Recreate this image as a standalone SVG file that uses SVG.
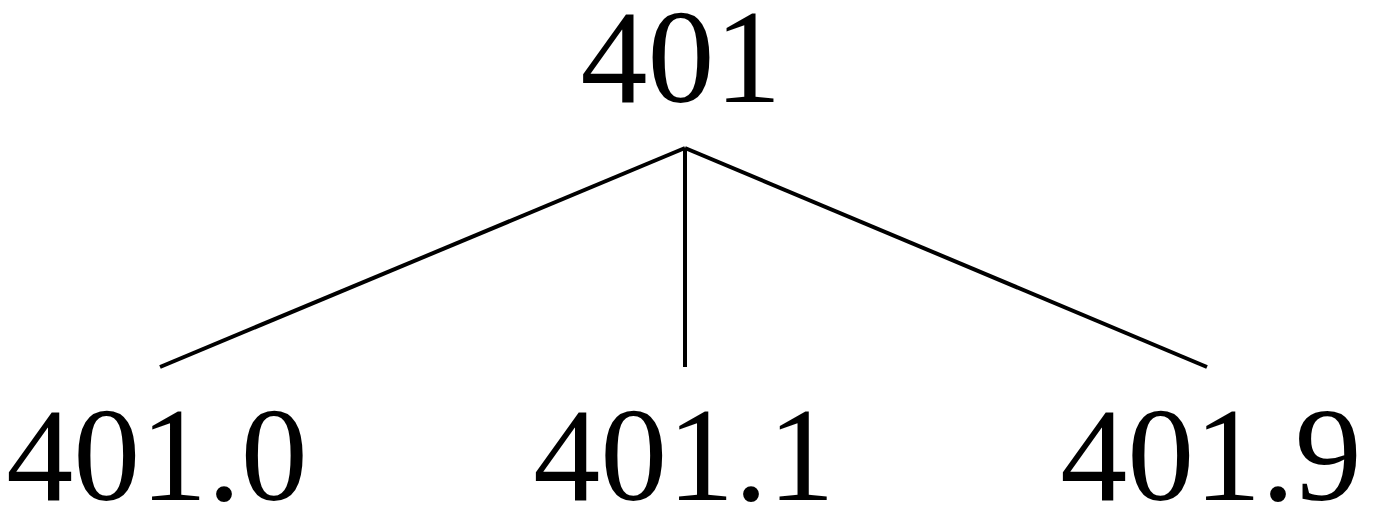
<svg xmlns="http://www.w3.org/2000/svg" width="1377" height="512" viewBox="0 0 1377 512">
<style>
.t{font-family:"Liberation Serif","DejaVu Serif",serif;font-size:134px;fill:#000;text-anchor:middle}
.e{stroke:#000;stroke-width:4;fill:none}
</style>
<rect width="1377" height="512" fill="#fff"/>
<g id="edges">
<line class="e" x1="685" y1="148" x2="160" y2="367"/>
<line class="e" x1="685" y1="148" x2="685" y2="367"/>
<line class="e" x1="685" y1="148" x2="1207" y2="367"/>
</g>
<g id="n401"><text class="t" x="681" y="102">401</text></g>
<g id="n401_0"><text class="t" x="157" y="500">401.0</text></g>
<g id="n401_1"><text class="t" x="684" y="500">401.1</text></g>
<g id="n401_9"><text class="t" x="1211" y="500">401.9</text></g>
</svg>
